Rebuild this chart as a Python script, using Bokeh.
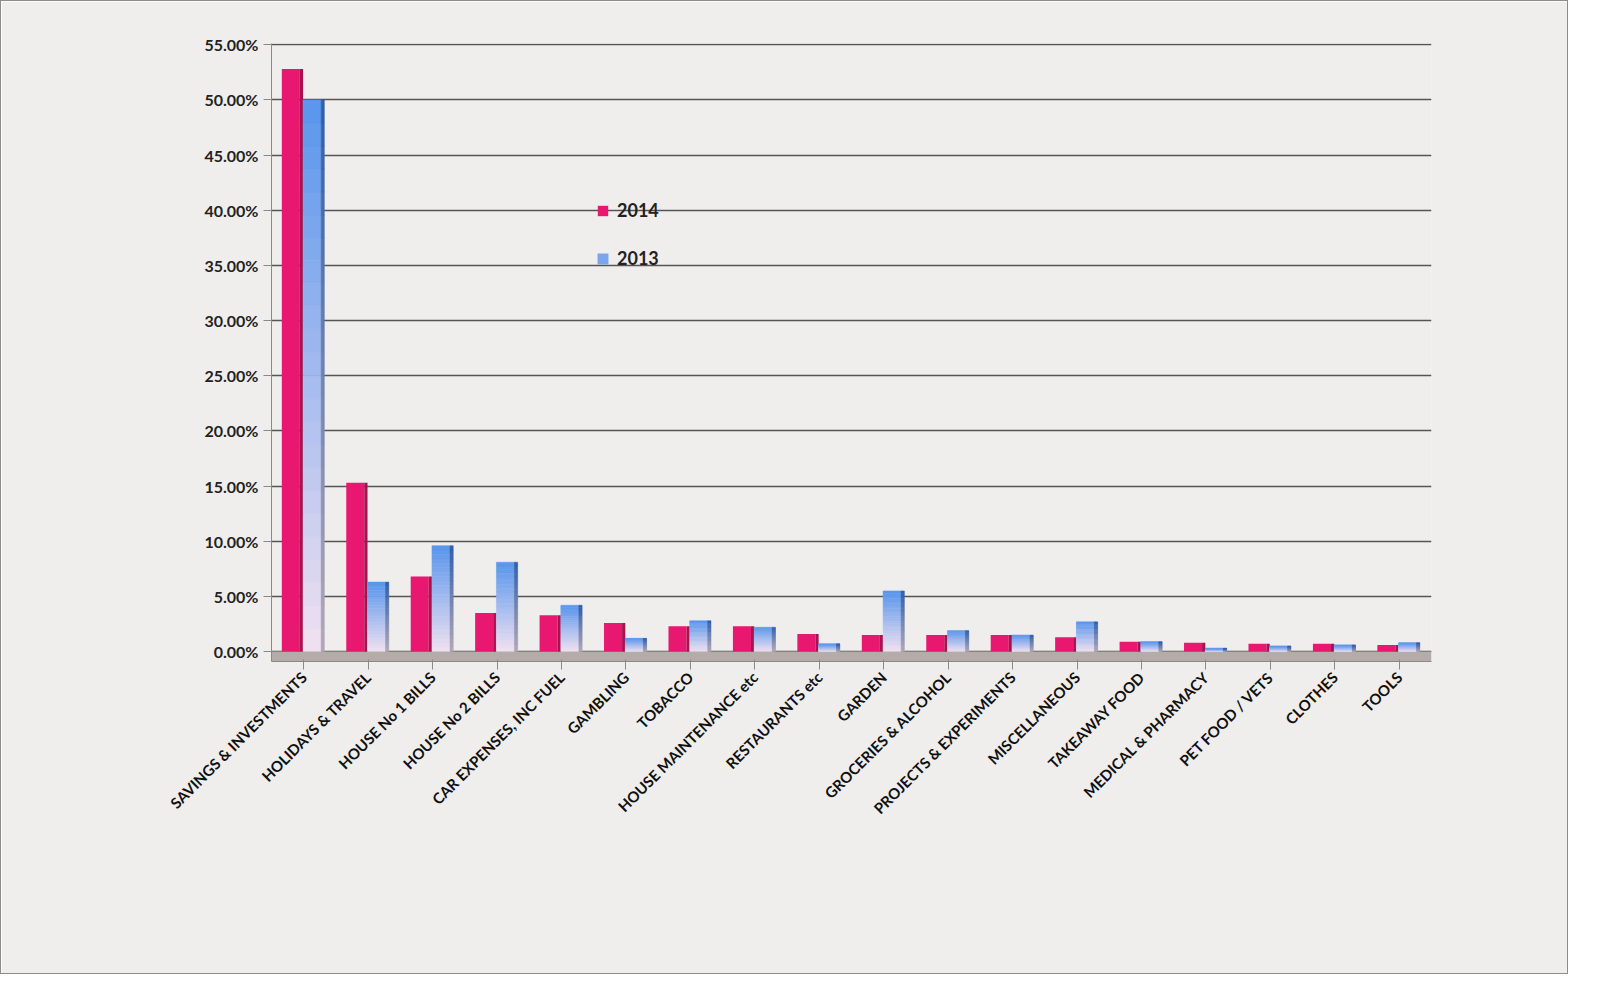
import math
from bokeh.plotting import figure
from bokeh.models import (FactorRange, ColumnDataSource, NumeralTickFormatter, FixedTicker,
                          Legend, LegendItem, BoxAnnotation)
from bokeh.transform import dodge
from bokeh.embed import file_html
from bokeh.resources import INLINE

categories = ["SAVINGS & INVESTMENTS", "HOLIDAYS & TRAVEL", "HOUSE No 1 BILLS", "HOUSE No 2 BILLS",
              "CAR EXPENSES, INC FUEL", "GAMBLING", "TOBACCO", "HOUSE MAINTENANCE etc",
              "RESTAURANTS etc", "GARDEN", "GROCERIES & ALCOHOL", "PROJECTS & EXPERIMENTS",
              "MISCELLANEOUS", "TAKEAWAY FOOD", "MEDICAL & PHARMACY", "PET FOOD / VETS",
              "CLOTHES", "TOOLS"]
values_2014 = [0.528, 0.153, 0.068, 0.035, 0.033, 0.026, 0.023, 0.023, 0.016, 0.015,
               0.015, 0.015, 0.013, 0.009, 0.008, 0.007, 0.007, 0.006]
values_2013 = [0.500, 0.063, 0.096, 0.081, 0.042, 0.012, 0.028, 0.022, 0.007, 0.055,
               0.019, 0.015, 0.027, 0.009, 0.003, 0.005, 0.006, 0.008]
y_ticks = [0.0, 0.05, 0.10, 0.15, 0.20, 0.25, 0.30, 0.35, 0.40, 0.45, 0.50, 0.55]

FONT = "Lato"
BG = "#efeeec"
PINK = "#e8176f"
PINK_SIDE = "#a9124f"
N_SEG = 24


def mix(c1, c2, t):
    a = [int(c1[i:i + 2], 16) for i in (1, 3, 5)]
    b = [int(c2[i:i + 2], 16) for i in (1, 3, 5)]
    return "#%02x%02x%02x" % tuple(round(a[k] + (b[k] - a[k]) * t) for k in range(3))


def gradient_source(vals, top_col, bot_col, n=N_SEG):
    cats, bots, tops, cols = [], [], [], []
    for c, v in zip(categories, vals):
        for i in range(n):
            cats.append(c)
            bots.append(v * i / n)
            tops.append(v * (i + 1) / n)
            cols.append(mix(bot_col, top_col, (i + 0.5) / n))
    return ColumnDataSource(dict(cat=cats, bottom=bots, top=tops, color=cols))


p = figure(x_range=FactorRange(*categories), y_range=(-0.009, 0.5512),
           width=1568, height=974, output_backend="svg", toolbar_location=None,
           background_fill_color=BG, border_fill_color=BG,
           min_border_left=270, min_border_right=138, min_border_top=42, min_border_bottom=314)
p.styles = {"border": "1px solid #8c8c8c"}
p.outline_line_color = None

# floor
p.add_layout(BoxAnnotation(bottom=-0.009, top=0, fill_color="#b3aca8", fill_alpha=1.0,
                           line_color=None, level="underlay"))

src14 = ColumnDataSource(dict(cat=categories, v=values_2014))
r14 = p.vbar(x=dodge("cat", -0.2, range=p.x_range), top="v", bottom=0, width=0.28, source=src14,
             fill_color=PINK, line_color=None)
p.vbar(x=dodge("cat", -0.035, range=p.x_range), top="v", bottom=0, width=0.05, source=src14,
       fill_color=PINK_SIDE, line_color=None)

g_front = gradient_source(values_2013, "#5895ec", "#f1e1f1")
g_side = gradient_source(values_2013, "#2f5ea8", "#b2a8b6")
r13 = p.vbar(x=dodge("cat", 0.13, range=p.x_range), top="top", bottom="bottom", width=0.28,
             source=g_front, fill_color="color", line_color="color", line_width=0.5)
p.vbar(x=dodge("cat", 0.295, range=p.x_range), top="top", bottom="bottom", width=0.05,
       source=g_side, fill_color="color", line_color="color", line_width=0.5)

legend = Legend(items=[LegendItem(label="2014", renderers=[r14], index=0),
                       LegendItem(label="2013", renderers=[r13], index=N_SEG - 6)],
                location=(325, 392), orientation="vertical",
                background_fill_alpha=0, border_line_color=None,
                label_text_font=FONT, label_text_font_style="bold", label_text_font_size="18px",
                label_text_color="#222222", glyph_width=13, glyph_height=13, spacing=26,
                label_standoff=8)
p.add_layout(legend)

p.yaxis.ticker = FixedTicker(ticks=y_ticks)
p.yaxis.formatter = NumeralTickFormatter(format="0.00%")
p.yaxis.major_label_text_font = FONT
p.yaxis.major_label_text_font_style = "bold"
p.yaxis.major_label_text_font_size = "16px"
p.yaxis.major_label_text_color = "#222222"
p.yaxis.axis_line_color = "#8a8a8a"
p.yaxis.major_tick_line_color = "#8a8a8a"
p.yaxis.major_tick_out = 8
p.yaxis.major_tick_in = 0
p.yaxis.minor_tick_line_color = None

p.xaxis.major_label_orientation = math.pi / 4
p.xaxis.major_label_text_font = FONT
p.xaxis.major_label_text_font_style = "bold"
p.xaxis.major_label_text_font_size = "15px"
p.xaxis.major_label_text_color = "#111111"
p.xaxis.axis_line_color = "#8a8a8a"
p.xaxis.major_tick_line_color = "#8a8a8a"
p.xaxis.major_tick_out = 8

p.xgrid.grid_line_color = None
p.ygrid.ticker = FixedTicker(ticks=y_ticks)
p.ygrid.grid_line_color = "#555555"
p.ygrid.grid_line_width = 1.6

open("out.html", "w").write(file_html(p, INLINE))
